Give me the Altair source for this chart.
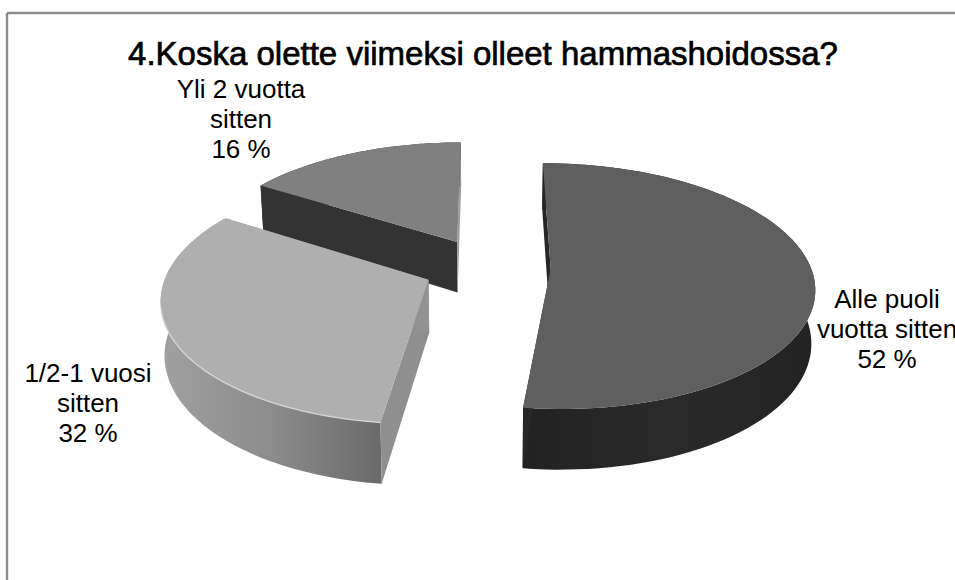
import altair as alt
import numpy as np
import pandas as pd

# Survey shares, in percent, clockwise from twelve o'clock
CATEGORIES = ["Alle puoli\nvuotta sitten", "1/2-1 vuosi\nsitten", "Yli 2 vuotta\nsitten"]
SHARES = [52, 32, 16]
TITLE = "4.Koska olette viimeksi olleet hammashoidossa?"

# Disc projection: centre, radii, perspective strength, explode distance, wall depth
CX, CY, RX, RY, PERSP, EXPLODE, DEPTH = 487.0, 267.0, 260.0, 120.0, 0.14, 0.245, 52.0
WALL_SHRINK = 0.012

TOP_FILLS = ["#5f5f5f", "#afafaf", "#808080"]
START_WALLS = ["#272727", "#8f8f8f", "#333333"]
END_WALLS = ["#272727", "#929292", "#9a9a9a"]


def hgrad(*stops):
    return alt.Gradient(
        gradient="linear", x1=0, x2=1, y1=0, y2=0,
        stops=[alt.GradientStop(offset=o, color=c) for o, c in stops],
    )


ARC_WALLS = [
    hgrad((0, "#222222"), (0.5, "#2a2a2a"), (1, "#232323")),
    hgrad((0, "#a0a0a0"), (0.5, "#8c8c8c"), (1, "#6a6a6a")),
    "#333333",
]


def project(px, py, drop=0.0):
    den = 1 + PERSP * py
    return (
        CX + RX * (1 - WALL_SHRINK * drop) * px / den,
        CY - RY * py / den + drop * DEPTH / den,
    )


def slice_geometry(share, start_deg):
    """Plate coordinates of one exploded slice: apex plus its outer arc."""
    span = share * 3.6
    mid = np.radians(start_deg + span / 2)
    ox, oy = EXPLODE * np.sin(mid), EXPLODE * np.cos(mid)
    t = np.radians(np.linspace(start_deg, start_deg + span, 90))
    return (ox, oy), ox + np.sin(t), oy + np.cos(t)


def piece(xs, ys, fill):
    frame = pd.DataFrame({"x": xs, "y": ys, "i": np.arange(len(xs))})
    return (
        alt.Chart(frame)
        .mark_line(fill=fill, clip=False, interpolate="linear", strokeWidth=0)
        .encode(
            x=alt.X("x:Q", scale=alt.Scale(domain=[0, 955]), axis=None),
            y=alt.Y("y:Q", scale=alt.Scale(domain=[580, 0]), axis=None),
            order="i:Q",
        )
    )


def rim(xs, ys, colour):
    frame = pd.DataFrame({"x": xs, "y": ys, "i": np.arange(len(xs))})
    return (
        alt.Chart(frame)
        .mark_line(color=colour, strokeWidth=1.4)
        .encode(
            x=alt.X("x:Q", scale=alt.Scale(domain=[0, 955]), axis=None),
            y=alt.Y("y:Q", scale=alt.Scale(domain=[580, 0]), axis=None),
            order="i:Q",
        )
    )


def slice_layers(idx, share, start_deg):
    (ox, oy), ax, ay = slice_geometry(share, start_deg)
    tx, ty = project(ax, ay)
    bx, by = project(ax, ay, 1.0)
    x0, y0 = project(ox, oy)
    x1, y1 = project(ox, oy, 1.0)
    layers = [
        piece(np.r_[tx, bx[::-1]], np.r_[ty, by[::-1]], ARC_WALLS[idx]),
        piece([tx[0], x0, x1, bx[0]], [ty[0], y0, y1, by[0]], START_WALLS[idx]),
        piece([tx[-1], x0, x1, bx[-1]], [ty[-1], y0, y1, by[-1]], END_WALLS[idx]),
        piece(np.r_[x0, tx], np.r_[y0, ty], TOP_FILLS[idx]),
    ]
    if idx == 1:
        layers.append(rim(tx[:55], ty[:55], "#d4d4d4"))
    return layers


starts = np.cumsum([0] + [s * 3.6 for s in SHARES[:-1]])
layers = []
# Back slices first so the nearer ones paint over them
for idx in (2, 1, 0):
    layers += slice_layers(idx, SHARES[idx], float(starts[idx]))

frame_colour = "#8c8c8c"
border = [
    alt.Chart(pd.DataFrame({"a": [0]})).mark_rule(color=frame_colour, strokeWidth=2.4)
    .encode(x=alt.value(7), x2=alt.value(955), y=alt.value(13)),
    alt.Chart(pd.DataFrame({"a": [0]})).mark_rule(color=frame_colour, strokeWidth=2.4)
    .encode(x=alt.value(7), y=alt.value(13), y2=alt.value(580)),
]

FONT = "Liberation Sans"
title = (
    alt.Chart(pd.DataFrame({"t": [TITLE]}))
    .mark_text(font=FONT, fontSize=33, color="#000000", stroke="#000000", strokeWidth=0.7)
    .encode(text="t:N", x=alt.value(483), y=alt.value(55))
)

LABEL_ANCHORS = [(887, 300), (88, 374), (241, 90)]
labels = []
for cat, share, (lx, ly) in zip(CATEGORIES, SHARES, LABEL_ANCHORS):
    labels.append(
        alt.Chart(pd.DataFrame({"t": [f"{cat}\n{share} %"]}))
        .mark_text(font=FONT, fontSize=26, lineBreak="\n", lineHeight=30, color="#000000", baseline="middle")
        .encode(text="t:N", x=alt.value(lx), y=alt.value(ly))
    )

chart = (
    alt.layer(*border, *layers, title, *labels)
    .properties(width=955, height=580, padding=0, autosize=alt.AutoSizeParams(type="none"), background="white")
    .configure_view(stroke=None)
)

chart.save("out.html", embed_options={"renderer": "svg", "actions": False})
